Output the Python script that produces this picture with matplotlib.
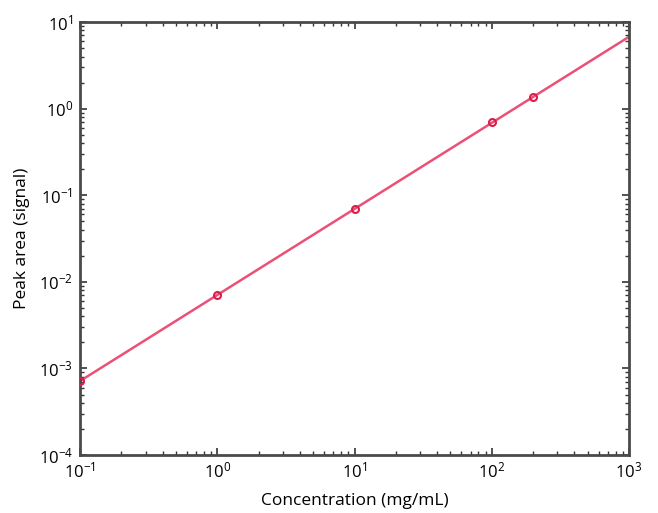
import numpy as np
import matplotlib.pyplot as plt

plt.rcParams['font.family'] = ['Open Sans', 'DejaVu Sans']
plt.rcParams['mathtext.fontset'] = 'custom'
plt.rcParams['mathtext.rm'] = 'Open Sans'

# Data
conc = [0.1, 1, 10, 100, 200]          # mg/mL
area = [7.2e-4, 7.0e-3, 6.9e-2, 0.70, 1.35]

# Log-log linear fit drawn across the full x range
p = np.polyfit(np.log10(conc), np.log10(area), 1)
x_fit = np.logspace(-1, 3, 50)
y_fit = 10 ** np.polyval(p, np.log10(x_fit))

fig = plt.figure(figsize=(6.58, 5.13), dpi=100)
ax = fig.add_axes([0.1216, 0.113, 0.8344, 0.844])

ax.plot(x_fit, y_fit, color='#e8325f', lw=1.8, alpha=0.85, zorder=2)
ax.plot(conc, area, 'o', ms=5, mfc='none', mec='#d81e4a', mew=1.5, zorder=3)

ax.set_xscale('log')
ax.set_yscale('log')
ax.set_xlim(0.1, 1000)
ax.set_ylim(1e-4, 10)

ax.tick_params(which='both', direction='in', top=True, right=True, colors='#333333',
               labelcolor='black', labelsize=12)
ax.tick_params(which='major', length=5, width=1.2, pad=5)
ax.tick_params(which='minor', length=3, width=1)
for s in ax.spines.values():
    s.set_linewidth(2)
    s.set_color('#4a4a48')

ax.set_xlabel('Concentration (mg/mL)', fontsize=12.5, labelpad=8)
ax.set_ylabel('Peak area (signal)', fontsize=12.5, labelpad=6)

fig.savefig('out.png', dpi=100)
